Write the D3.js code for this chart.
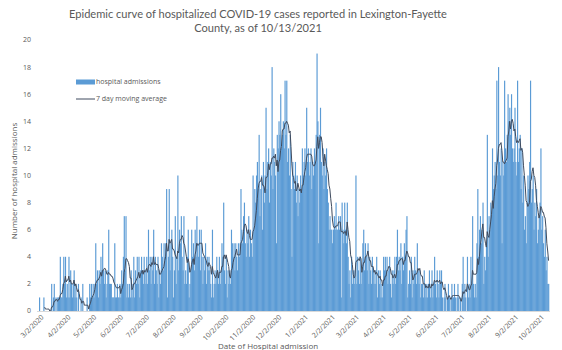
<!DOCTYPE html>
<html>
<head>
<meta charset="utf-8">
<script src="https://cdn.jsdelivr.net/npm/d3@7"></script>
<style>
  body { margin: 0; background: #fff; }
  svg { display: block; font-family: "Open Sans", "Liberation Sans", sans-serif; }
</style>
</head>
<body>
<div id="chart"></div>
<script>
// First day of the series and the daily hospital admissions
var startDate = "3/2/2020";
var admissions = [
  // Mar 2020
  1,0,0,0,0,1,0,0,0,0,0,0,0,0,2,0,1,2,0,1,0,1,1,1,4,1,1,2,4,2,4,
  // Apr 2020
  1,2,1,4,1,3,2,1,2,3,1,2,1,0,2,0,0,1,0,2,0,0,0,0,1,0,0,2,1,2,
  // May 2020
  1,2,1,2,5,2,3,1,3,2,4,3,5,3,2,3,1,2,3,6,2,2,2,1,1,1,5,1,1,2,1,
  // Jun 2020
  1,2,1,3,2,4,7,3,7,1,2,1,2,1,3,1,2,4,1,3,2,4,2,4,1,3,4,3,2,4,
  // Jul 2020
  3,2,4,2,6,3,4,2,4,3,6,2,4,3,2,4,1,3,2,5,4,3,5,4,5,9,1,4,9,3,5,
  // Aug 2020
  6,4,1,3,7,2,4,10,3,6,5,7,4,3,7,2,3,2,4,6,1,2,3,6,4,5,3,6,4,7,5,
  // Sep 2020
  4,6,3,6,4,2,4,3,5,2,4,3,4,3,2,1,6,1,2,3,2,4,3,2,4,2,3,5,4,8,
  // Oct 2020
  3,2,4,1,3,2,3,2,6,5,4,5,3,5,4,3,5,4,5,9,6,5,7,8,5,4,6,5,7,4,6,
  // Nov 2020
  5,4,10,6,9,8,10,11,9,13,7,9,10,6,11,8,10,15,9,11,12,8,11,10,18,9,12,11,10,5,
  // Dec 2020
  13,12,14,13,16,12,13,14,12,17,13,17,11,12,10,13,9,4,11,10,9,11,8,10,7,9,8,10,9,12,10,
  // Jan 2021
  11,12,10,15,11,12,10,11,12,9,11,10,12,11,13,19,14,5,13,15,11,10,12,9,11,10,12,9,8,6,7,
  // Feb 2021
  6,6,5,6,7,6,8,6,6,7,6,7,1,8,6,5,8,6,5,8,4,2,3,1,4,2,3,2,
  // Mar 2021
  3,10,2,4,3,2,4,2,3,5,6,3,5,4,3,5,2,4,3,2,4,3,2,3,2,4,1,3,2,3,1,
  // Apr 2021
  2,1,4,3,4,3,4,2,3,4,2,1,3,2,3,4,2,4,6,3,4,3,5,2,4,3,5,4,6,7,
  // May 2021
  1,2,3,2,4,1,3,2,4,3,2,5,3,2,3,1,2,2,1,3,2,1,2,1,2,3,1,2,3,1,2,
  // Jun 2021
  4,2,1,3,2,1,3,2,3,1,0,1,2,1,0,1,2,1,0,1,2,1,1,2,1,0,1,2,1,0,
  // Jul 2021
  1,0,2,4,1,2,1,0,4,1,2,1,4,2,7,2,1,2,1,5,9,4,6,7,5,6,8,2,4,3,5,
  // Aug 2021
  13,4,7,6,8,7,12,9,10,11,9,17,10,18,11,10,12,5,11,10,17,12,11,13,16,14,15,13,16,12,11,
  // Sep 2021
  12,15,11,10,17,11,12,13,9,12,8,10,6,7,5,8,10,9,11,17,8,9,10,6,8,7,9,5,6,7,
  // Oct 2021
  8,12,6,7,5,4,6,3,4,2,2
];
var tickLabels = ["3/2/2020", "4/2/2020", "5/2/2020", "6/2/2020", "7/2/2020", "8/2/2020",
  "9/2/2020", "10/2/2020", "11/2/2020", "12/2/2020", "1/2/2021", "2/2/2021", "3/2/2021",
  "4/2/2021", "5/2/2021", "6/2/2021", "7/2/2021", "8/2/2021", "9/2/2021", "10/2/2021"];
var yTicks = [0, 2, 4, 6, 8, 10, 12, 14, 16, 18, 20];
var seriesNames = ["hospital admissions", "7 day moving average"];

var width = 562, height = 350;
var parse = d3.timeParse("%m/%d/%Y");
var start = parse(startDate);

var data = admissions.map(function (v, i) {
  return { date: d3.timeDay.offset(start, i), value: v };
});

// 7 day trailing moving average of the admissions
var ma = [];
data.forEach(function (d, i) {
  if (i >= 6) {
    ma.push({ date: d.date, value: d3.mean(data.slice(i - 6, i + 1), e => e.value) });
  }
});

var svg = d3.select('#chart')
  .append('svg')
  .attr('width', width)
  .attr('height', height);

var x = d3.scaleTime()
  .domain([start, d3.timeDay.offset(start, data.length)])
  .range([39, 549]);

var y = d3.scaleLinear()
  .domain([0, 20])
  .range([311, 40]);

var barW = x(d3.timeDay.offset(start, 1)) - x(start);

// Title, sized so that the first line is about as wide as in the original
var title = svg.append('text')
  .attr('text-anchor', 'middle')
  .style('font-family', 'Lato, "Open Sans", sans-serif')
  .style('font-size', '12px')
  .style('fill', '#595959');
var t1 = title.append('tspan').attr('x', 258).attr('y', 18)
  .text('Epidemic curve of hospitalized COVID-19 cases reported in Lexington-Fayette');
title.append('tspan').attr('x', 258).attr('y', 32)
  .text('County, as of 10/13/2021');
var len = t1.node().getComputedTextLength();
title.style('font-size', (12 * 378 / len).toFixed(2) + 'px');

// y tick labels
svg.selectAll('.ytick')
  .data(yTicks)
  .enter()
  .append('text')
  .attr('class', 'ytick')
  .attr('x', 31)
  .attr('y', d => y(d))
  .attr('dy', '0.35em')
  .attr('text-anchor', 'end')
  .style('font-size', '7px')
  .style('fill', '#595959')
  .text(d => d);

// bars (slightly widened so neighbouring days blend into a solid area)
svg.selectAll('.bar')
  .data(data)
  .enter()
  .append('rect')
  .attr('class', 'bar')
  .attr('x', d => x(d.date))
  .attr('width', barW + 0.3)
  .attr('y', d => y(d.value))
  .attr('height', d => y(0) - y(d.value))
  .attr('fill', '#5b9bd5');

// moving average line
var line = d3.line()
  .x(d => x(d.date) + barW / 2)
  .y(d => y(d.value));

svg.append('path')
  .datum(ma)
  .attr('d', line)
  .attr('fill', 'none')
  .attr('stroke', '#3f4b5e')
  .attr('stroke-width', 1);

// x axis baseline
svg.append('line')
  .attr('x1', 37).attr('x2', 550)
  .attr('y1', y(0) + 0.5).attr('y2', y(0) + 0.5)
  .attr('stroke', '#d9d9d9')
  .attr('stroke-width', 1);

// x tick labels, rotated
svg.selectAll('.xtick')
  .data(tickLabels)
  .enter()
  .append('text')
  .attr('class', 'xtick')
  .attr('transform', d => 'translate(' + (x(parse(d)) + barW / 2 + 3) + ',' + 316 + ') rotate(-45)')
  .attr('dy', '0.35em')
  .attr('text-anchor', 'end')
  .style('font-size', '7px')
  .style('fill', '#595959')
  .text(d => d);

// axis titles
svg.append('text')
  .attr('transform', 'translate(14,181) rotate(-90)')
  .attr('text-anchor', 'middle')
  .attr('dy', '0.35em')
  .style('font-size', '8px')
  .style('fill', '#595959')
  .text('Number of hospital admissions');

svg.append('text')
  .attr('x', 268)
  .attr('y', 348.5)
  .attr('text-anchor', 'middle')
  .style('font-size', '8px')
  .style('fill', '#595959')
  .text('Date of Hospital admission');

// legend
var legend = svg.selectAll('.legend')
  .data(seriesNames)
  .enter()
  .append('g')
  .attr('class', 'legend')
  .attr('transform', (d, i) => 'translate(76,' + (82 + i * 17) + ')');

legend.each(function (d, i) {
  var g = d3.select(this);
  if (i === 0) {
    g.append('rect').attr('x', 0).attr('y', -2.5).attr('width', 19).attr('height', 5).attr('fill', '#5b9bd5');
  } else {
    g.append('line').attr('x1', 0).attr('x2', 19).attr('y1', 0).attr('y2', 0)
      .attr('stroke', '#3f4b5e').attr('stroke-width', 1);
  }
});

legend.append('text')
  .attr('x', 20)
  .attr('y', 0)
  .attr('dy', '0.35em')
  .style('font-size', '7px')
  .style('fill', '#595959')
  .text(d => d);
</script>
</body>
</html>
